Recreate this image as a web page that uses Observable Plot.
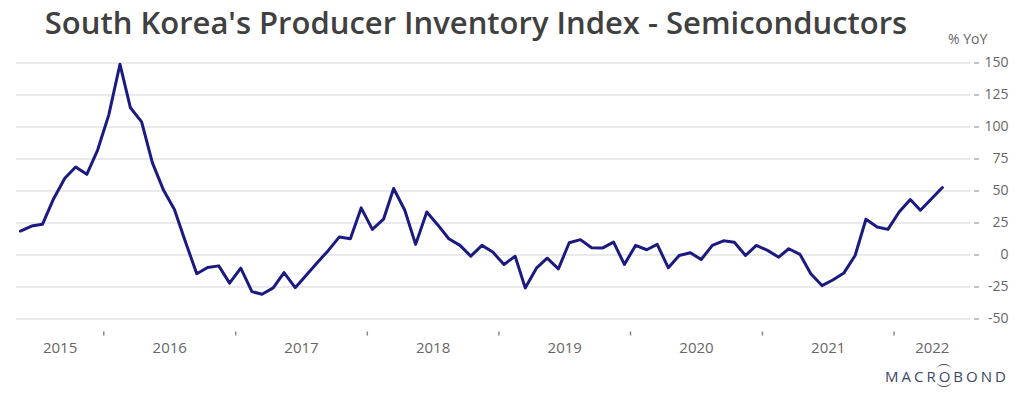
<!DOCTYPE html>
<html>
<head>
<meta charset="utf-8">
<script src="https://cdn.jsdelivr.net/npm/d3@7"></script>
<script src="https://cdn.jsdelivr.net/npm/@observablehq/plot@0.6"></script>
<style>
  body { margin: 0; background: #fff; font-family: "Open Sans", sans-serif; }
  #wrap { position: relative; width: 1024px; height: 396px; overflow: hidden; }
  #title { position: absolute; left: 0; top: 2px; width: 952px; height: 40px; line-height: 40px; text-align: center;
           font-size: 31px; font-weight: 600; color: #404040; white-space: nowrap; }
  #unit { position: absolute; left: 948px; top: 29px; font-size: 14px; color: #666; }
  #logo { position: absolute; left: 885px; top: 366px; font-size: 15px; letter-spacing: 3px;
          color: #3b4763; font-weight: 500; }
  #logo .o { position: relative; display: inline-block; }
  #logo .o::before { content: ""; position: absolute; left: -2px; right: 2px; top: -2px; height: 8px;
          border-top: 1.2px solid #3b4763; border-radius: 50% 50% 0 0; }
  #logo .o::after { content: ""; position: absolute; left: -2px; right: 2px; bottom: -1px; height: 8px;
          border-bottom: 1.2px solid #3b4763; border-radius: 0 0 50% 50%; }
  #chart { position: absolute; left: 0; top: 0; }
</style>
</head>
<body>
<div id="wrap">
  <div id="chart"></div>
  <div id="title">South Korea's Producer Inventory Index - Semiconductors</div>
  <div id="unit">% YoY</div>
  <div id="logo">MACR<span class="o">O</span>BOND</div>
</div>
<script>
// Monthly series, May 2015 .. May 2022 (% YoY)
const firstMonth = [2015, 4]; // year, zero-based month (May 2015)
const values = [
  // 2015 May-Dec
  18.7, 22.6, 24, 44, 60, 68.7, 63, 82,
  // 2016
  109.5, 149, 115, 104, 72, 50.5, 35.5, 10, -14.7, -9.8, -8.5, -22,
  // 2017
  -10.3, -28.6, -30.7, -25.7, -13.7, -25.5, -16, -6, 3.6, 14, 12.7, 36.8,
  // 2018
  20, 28, 52, 35, 8.3, 33.6, 23.7, 12.7, 7.5, -0.9, 7.5, 2.3,
  // 2019
  -7.4, -1, -25.7, -10.3, -2.5, -10.8, 9.6, 12, 5.7, 5.4, 10.1, -7.4,
  // 2020
  7.5, 4.1, 8.3, -10, -0.4, 1.7, -3.5, 7.5, 11.1, 10, -0.4, 7.5,
  // 2021
  3.6, -1.7, 4.9, 0.5, -14.7, -23.9, -19.5, -14, -0.4, 27.9, 21.9, 20,
  // 2022 Jan-May
  33.6, 43.3, 35, 44, 52.7
];
const yearLabels = [2015, 2016, 2017, 2018, 2019, 2020, 2021, 2022];
const yTicks = [-50, -25, 0, 25, 50, 75, 100, 125, 150];
const xDomain = [new Date(Date.UTC(2015, 4, 4)), new Date(Date.UTC(2022, 7, 1))];

const data = values.map((v, i) => ({
  date: new Date(Date.UTC(firstMonth[0], firstMonth[1] + i, 15)),
  value: v
}));

// year boundaries (tick marks) and centres of the visible part of each year (labels)
const yearStarts = yearLabels.slice(1).map(y => new Date(Date.UTC(y, 0, 1)));
const yearMids = yearLabels.map(y => {
  const a = Math.max(+new Date(Date.UTC(y, 0, 1)), +xDomain[0]);
  const b = Math.min(+new Date(Date.UTC(y + 1, 0, 1)), +xDomain[1]);
  return new Date((a + b) / 2);
});

const chart = Plot.plot({
  width: 1024,
  height: 396,
  marginLeft: 16,
  marginRight: 54,
  marginTop: 62.5,
  marginBottom: 77.5,
  style: { fontFamily: "Open Sans, sans-serif", background: "transparent" },
  x: { type: "utc", domain: xDomain },
  y: { domain: [-50, 150] },
  marks: [
    Plot.gridY(yTicks, { stroke: "#e3e3e3", strokeOpacity: 1, strokeWidth: 1.5 }),
    Plot.axisY({ anchor: "right", ticks: yTicks, tickSize: 5, dx: 3, tickFormat: () => "",
                 stroke: "#999", strokeWidth: 1.2, label: null }),
    Plot.axisY({ anchor: "right", ticks: yTicks, tickSize: 0, tickPadding: 38, textAnchor: "end",
                 tickFormat: d => String(d), fontSize: 14, fill: "#666", label: null }),
    Plot.axisX({ ticks: yearStarts, tickSize: 4, dy: 13, tickFormat: () => "",
                 stroke: "#888", strokeWidth: 1.5, label: null }),
    Plot.axisX({ ticks: yearMids, tickSize: 0, tickPadding: 23, tickFormat: d => String(yearLabels[yearMids.findIndex(m => +m === +d)]),
                 fontSize: 15, fill: "#666", label: null }),
    Plot.lineY(data, { x: "date", y: "value", stroke: "#1b1a80", strokeWidth: 3, strokeLinejoin: "round" })
  ]
});
document.getElementById("chart").appendChild(chart);
</script>
</body>
</html>
